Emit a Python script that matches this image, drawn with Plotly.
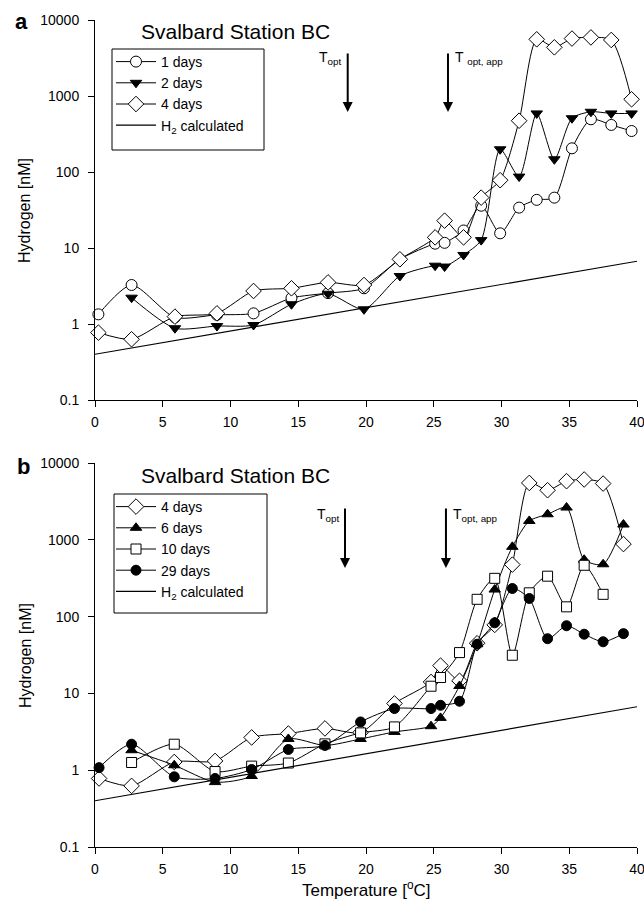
import plotly.graph_objects as go

# ---------------- data ----------------
TEMP_A = [0.25, 2.7, 5.9, 9.0, 11.7, 14.5, 17.2, 19.85, 22.5, 25.1, 25.8,
          27.2, 28.5, 29.9, 31.3, 32.6, 33.9, 35.2, 36.6, 38.1, 39.6]
TEMP_B = [0.3, 2.7, 5.85, 8.86, 11.56, 14.27, 16.97, 19.6, 22.1, 24.8, 25.5,
          26.9, 28.2, 29.5, 30.8, 32.05, 33.4, 34.8, 36.1, 37.5, 39.0]

DAY1_A = [1.34, 3.26, 1.22, 1.32, 1.38, 2.2, 2.55, 2.95, 7.1, 11.4, 11.7,
          17, 36, 15.6, 34, 43, 46, 205, 494, 416, 346]
DAY2_A = [2.22, 0.88, 0.94, 0.97, 1.82, 2.5, 1.56, 4.28, 5.85, 5.7,
          8.1, 12.7, 199, 87, 590, 147, 510, 620, 590, 590]          # from TEMP_A[1:]
DAY4_A = [0.77, 0.63, 1.25, 1.38, 2.72, 2.95, 3.53, 3.26, 7.1, 13.8, 22.9,
          13.8, 46, 78, 473, 5570, 4370, 5700, 5900, 5460, 905]

DAY4_B = [0.78, 0.625, 1.28, 1.32, 2.67, 3.0, 3.5, 3.1, 7.4, 14.1, 23,
          14.6, 45, 78, 475, 5500, 4420, 5800, 6100, 5400, 880]
DAY6_B = [1.82, 1.16, 0.70, 0.84, 2.55, 2.1, 2.55, 3.15, 3.74, 4.8,
          12.5, 43.7, 225, 810, 1760, 2150, 2630, 550, 480, 1580]     # from TEMP_B[1:]
DAY10_B = [1.26, 2.18, 0.96, 1.13, 1.24, 2.2, 3.06, 3.66, 12.4, 16.1,
           34, 168, 315, 31.4, 204, 336, 134, 466, 195]               # TEMP_B[1:20]
DAY29_B = [1.08, 2.18, 0.82, 0.78, 1.02, 1.86, 2.1, 4.25, 6.35, 6.35, 7.0,
           7.9, 43.7, 83, 232, 172, 51.5, 76, 59, 47, 60]

H2_T = [0, 40]
H2_CALC = [0.40, 6.7]

X_TICKS = [0, 5, 10, 15, 20, 25, 30, 35, 40]
Y_TICKS = [0.1, 1, 10, 100, 1000, 10000]
Y_TICK_TEXT = ["0.1", "1", "10", "100", "1000", "10000"]

T_OPT_A, T_OPT_APP_A = 18.65, 26.05
T_OPT_B, T_OPT_APP_B = 18.45, 25.9

# ---------------- figure ----------------
W, H = 644, 904
FONT = "Liberation Sans, Arial, sans-serif"

def px(x):
    return x / W

def py(y):
    return 1 - y / H

fig = go.Figure()

def line_trace(x, y, name, xa, ya, legend):
    return go.Scatter(x=x, y=y, mode="lines", name=name, xaxis=xa, yaxis=ya,
                      line=dict(color="black", width=1.2), legend=legend,
                      cliponaxis=False)

def data_trace(x, y, name, symbol, fill, size, xa, ya, legend):
    return go.Scatter(
        x=x, y=y, mode="lines+markers", name=name, xaxis=xa, yaxis=ya,
        line=dict(color="black", width=1, shape="spline", smoothing=0.7),
        marker=dict(symbol=symbol, size=size, color=fill,
                    line=dict(color="black", width=1)),
        legend=legend, cliponaxis=False)

# Panel a
fig.add_trace(data_trace(TEMP_A, DAY1_A, "1 days", "circle", "white", 11, "x", "y", "legend"))
fig.add_trace(data_trace(TEMP_A[1:], DAY2_A, "2 days", "triangle-down", "black", 10, "x", "y", "legend"))
fig.add_trace(data_trace(TEMP_A, DAY4_A, "4 days", "diamond", "white", 12, "x", "y", "legend"))
fig.add_trace(line_trace(H2_T, H2_CALC, "H<sub>2</sub> calculated", "x", "y", "legend"))

# Panel b
fig.add_trace(data_trace(TEMP_B, DAY4_B, "4 days", "diamond", "white", 12, "x2", "y2", "legend2"))
fig.add_trace(data_trace(TEMP_B[1:], DAY6_B, "6 days", "triangle-up", "black", 10, "x2", "y2", "legend2"))
fig.add_trace(data_trace(TEMP_B[1:20], DAY10_B, "10 days", "square", "white", 10, "x2", "y2", "legend2"))
fig.add_trace(data_trace(TEMP_B, DAY29_B, "29 days", "circle", "black", 10, "x2", "y2", "legend2"))
fig.add_trace(line_trace(H2_T, H2_CALC, "H<sub>2</sub> calculated", "x2", "y2", "legend2"))

xdom = [px(95), px(637)]
axis_common = dict(showline=True, linecolor="black", linewidth=1, ticks="outside",
                   ticklen=6, tickwidth=1, tickcolor="black", showgrid=False,
                   zeroline=False, ticklabeloverflow="allow", automargin=False,
                   tickfont=dict(family=FONT, size=14, color="black"))

legend_common = dict(xanchor="left", yanchor="top", borderwidth=0,
                     bgcolor="rgba(0,0,0,0)", itemwidth=40,
                     font=dict(family=FONT, size=14, color="black"))

fig.update_layout(
    width=W, height=H, margin=dict(l=0, r=0, t=0, b=0, autoexpand=False),
    paper_bgcolor="white", plot_bgcolor="white",
    font=dict(family=FONT, color="black"),
    xaxis=dict(domain=xdom, range=[0, 40], tickvals=X_TICKS, anchor="y",
               ticklabelstandoff=3, **axis_common),
    yaxis=dict(domain=[py(400), py(20)], type="log", range=[-1, 4], tickvals=Y_TICKS,
               ticktext=Y_TICK_TEXT, anchor="x", ticklabelstandoff=6, **axis_common),
    xaxis2=dict(domain=xdom, range=[0, 40], tickvals=X_TICKS, anchor="y2",
                ticklabelstandoff=3, **axis_common),
    yaxis2=dict(domain=[py(847), py(463)], type="log", range=[-1, 4], tickvals=Y_TICKS,
                ticktext=Y_TICK_TEXT, anchor="x2", ticklabelstandoff=6, **axis_common),
    legend=dict(x=px(111), y=py(46), **legend_common),
    legend2=dict(x=px(111), y=py(491), **legend_common),
    shapes=[
        dict(type="rect", xref="paper", yref="paper", x0=px(112), x1=px(264),
             y0=py(150), y1=py(49), line=dict(color="black", width=1),
             fillcolor="white", layer="below"),
        dict(type="rect", xref="paper", yref="paper", x0=px(114), x1=px(267),
             y0=py(613), y1=py(494), line=dict(color="black", width=1),
             fillcolor="white", layer="below"),
    ],
)

ann = []
# panel letters
ann.append(dict(text="<b>a</b>", x=px(13), y=py(22), xref="paper", yref="paper",
                xanchor="left", yanchor="middle", showarrow=False,
                font=dict(family=FONT, size=22)))
ann.append(dict(text="<b>b</b>", x=px(15), y=py(466), xref="paper", yref="paper",
                xanchor="left", yanchor="middle", showarrow=False,
                font=dict(family=FONT, size=22)))
# titles
for yy in (31, 475):
    ann.append(dict(text="Svalbard Station BC", x=px(139), y=py(yy), xref="paper",
                    yref="paper", xanchor="left", yanchor="middle", showarrow=False,
                    font=dict(family=FONT, size=21)))
# y axis titles
for yy in (210, 655):
    ann.append(dict(text="Hydrogen [nM]", x=px(25), y=py(yy), xref="paper", yref="paper",
                    xanchor="center", yanchor="middle", textangle=-90, showarrow=False,
                    font=dict(family=FONT, size=16)))
# x axis title
ann.append(dict(text="Temperature [<sup>o</sup>C]", x=px(366), y=py(889), xref="paper",
                yref="paper", xanchor="center", yanchor="middle", showarrow=False,
                font=dict(family=FONT, size=17)))

# arrows
def arrow(xv, xref, tip_px, length=60):
    return dict(x=xv, y=py(tip_px), xref=xref, yref="paper", ax=0, ay=-length,
                axref="pixel", ayref="pixel", showarrow=True, arrowhead=2,
                arrowsize=1, arrowwidth=2, arrowcolor="black", text="")

ann.append(arrow(T_OPT_A, "x", 112))
ann.append(arrow(T_OPT_APP_A, "x", 112))
ann.append(arrow(T_OPT_B, "x2", 568, 61))
ann.append(arrow(T_OPT_APP_B, "x2", 568, 61))

def tlabel(text, xp, yp, anchor):
    return dict(text=text, x=px(xp), y=py(yp), xref="paper", yref="paper",
                xanchor=anchor, yanchor="middle", showarrow=False,
                font=dict(family=FONT, size=14))

ann.append(tlabel("T<sub>opt</sub>", 343, 58, "right"))
ann.append(tlabel("T <sub>opt, app</sub>", 453, 58, "left"))
ann.append(tlabel("T<sub>opt</sub>", 341, 515, "right"))
ann.append(tlabel("T<sub>opt, app</sub>", 451, 515, "left"))

fig.update_layout(annotations=ann)
fig.write_html("out.html")
